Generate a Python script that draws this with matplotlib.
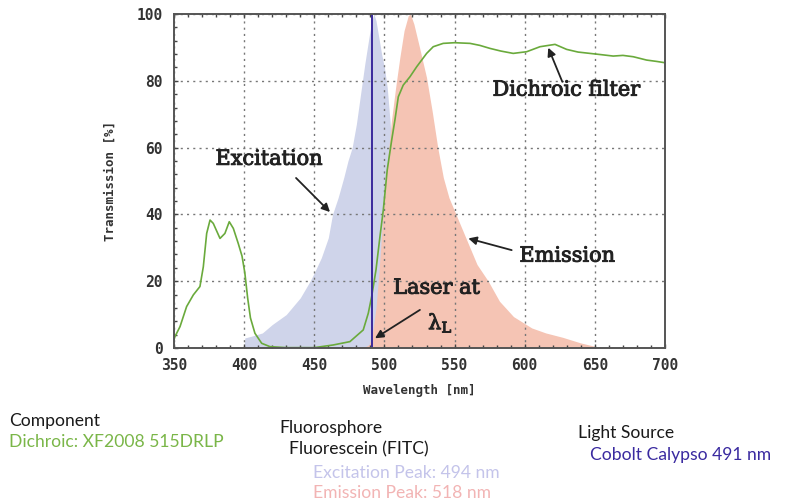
import matplotlib
matplotlib.use("Agg")
import matplotlib.pyplot as plt
import matplotlib.patheffects as pe
from matplotlib.ticker import MultipleLocator

plt.rcParams['mathtext.fontset'] = 'dejavuserif'

# ---- data ----
excitation_wl = [400, 400.5, 405, 413, 420, 430, 440, 447, 450, 455, 460, 463, 467, 471,
                 474, 477, 480, 483, 486, 489, 491, 492.5, 494, 496, 498, 500, 502, 504,
                 506, 508, 510, 513, 516, 520]
excitation_val = [0, 3, 3.5, 4.5, 7, 10, 15, 20, 22.5, 27, 33, 40, 45, 51,
                  56, 60, 67, 76, 85, 93, 98, 100, 98, 93, 88, 84, 78, 68,
                  55, 40, 25, 10, 3, 0]

emission_wl = [485, 489, 491, 494, 496, 499, 502, 505, 508, 511, 514, 517, 518.5, 521,
               525, 530, 534, 538, 542, 546, 552, 560, 566, 574, 582, 592, 605, 615, 627,
               640, 650, 651]
emission_val = [0, 1, 3, 12, 22, 40, 55, 68, 78, 87, 95, 99.5, 100, 97,
                90, 81, 71, 60, 51, 45, 39, 31, 25, 20, 14, 9.4, 6, 4.5, 3.2,
                1.5, 0.5, 0]

dichroic_wl = [350, 350.7, 354.3, 359, 363.8, 368.5, 370.9, 373.3, 375.7, 378, 382.8,
               386.3, 389.4, 392.3, 395.8, 398.5, 400.5, 402.5, 404.5, 407.7, 412.5, 418.4,
               430, 450, 463.5, 475.4, 484.9, 488.5, 490.9, 494, 496.8, 499.2, 502,
               505.2, 507.5, 509.9, 513.4, 518.2, 523, 530.1, 534.8, 541.9, 550, 561,
               568, 575.2, 583, 591.8, 601.4, 610.9, 621.6, 629.9, 638, 646.5, 655,
               663.1, 670, 677.4, 686.9, 694, 700]
dichroic_val = [2.5, 3.4, 6.4, 12.4, 15.9, 18.4, 24.3, 34.3, 38.3, 37.3, 32.8,
                34.3, 37.8, 35.8, 31.3, 27.5, 22.5, 15, 9, 4.4, 1.4, 0.4,
                0.1, 0.1, 0.9, 1.9, 5.4, 10.4, 15.4, 23.4, 33.3, 41.3, 53.3,
                62.3, 68.3, 75.2, 78.7, 81.2, 84.2, 88.2, 90.2, 91.2, 91.4, 91.2,
                90.6, 89.7, 88.9, 88.2, 88.7, 90.2, 90.9, 89.4, 88.6, 88.2, 87.8,
                87.4, 87.6, 87.2, 86.2, 85.8, 85.4]

laser_wl = 491

x_ticks = [350, 400, 450, 500, 550, 600, 650, 700]
y_ticks = [0, 20, 40, 60, 80, 100]

# ---- figure ----
fig = plt.figure(figsize=(7.88, 5.03), dpi=100)
ax = fig.add_axes([0.2208, 0.3082, 0.6231, 0.664])

ax.fill_between(excitation_wl, excitation_val, 0, color='#cfd4ea', lw=0, zorder=1)
ax.fill_between(emission_wl, emission_val, 0, color='#f5c4b4', lw=0, zorder=2)
ax.plot(dichroic_wl, dichroic_val, color='#6aaa3c', lw=1.2, zorder=4)
ax.plot([laser_wl, laser_wl], [0, 100], color='#3a2a9c', lw=1.4, zorder=5)

ax.set_xlim(350, 700)
ax.set_ylim(0, 100)
ax.set_xticks(x_ticks)
ax.set_yticks(y_ticks)
ax.xaxis.set_minor_locator(MultipleLocator(10))
ax.yaxis.set_minor_locator(MultipleLocator(4))
ax.tick_params(which='both', direction='in', top=True, right=False, color='#444444')
ax.tick_params(which='major', length=3, width=1)
ax.tick_params(which='minor', length=2, width=1)
ax.tick_params(axis='x', pad=7)
ax.tick_params(axis='y', pad=8)
ax.grid(True, which='major', linestyle=(0, (1.5, 3)), color='#777777', lw=1.0, zorder=3)
ax.set_axisbelow(False)
for s in ax.spines.values():
    s.set_color('#555555')
    s.set_linewidth(1.4)
    s.set_zorder(6)

for lbl in ax.get_xticklabels() + ax.get_yticklabels():
    lbl.set_fontfamily('DejaVu Sans Mono')
    lbl.set_fontweight('bold')
    lbl.set_fontsize(10.5)
    lbl.set_color('#333333')

ax.set_xlabel('Wavelength [nm]', fontdict=dict(family='DejaVu Sans Mono', weight='bold', size=9),
              color='#333333', labelpad=8)
ax.set_ylabel('Transmission [%]', fontdict=dict(family='DejaVu Sans Mono', weight='bold', size=9),
              color='#333333', labelpad=14)

thick = [pe.withStroke(linewidth=0.7, foreground='#222222')]
ann_font = dict(family='DejaVu Serif', size=15, color='#222222')
arrow = dict(arrowstyle='-|>', color='#222222', lw=1.3, mutation_scale=12, shrinkA=0, shrinkB=0)

ax.text(418, 56.5, 'Excitation', ha='center', va='center', **ann_font, zorder=7, path_effects=thick)
ax.annotate('', xy=(461.2, 40.7), xytext=(437, 50.9), arrowprops=arrow, zorder=7)

ax.text(630, 77.2, 'Dichroic filter', ha='center', va='center', **ann_font, zorder=7, path_effects=thick)
ax.annotate('', xy=(616.8, 89.9), xytext=(626.8, 79.7), arrowprops=arrow, zorder=7)

ax.text(630.5, 27.5, 'Emission', ha='center', va='center', **ann_font, zorder=7, path_effects=thick)
ax.annotate('', xy=(559.8, 32.8), xytext=(590.7, 29.3), arrowprops=arrow, zorder=7)

ax.text(537.3, 17.9, 'Laser at', ha='center', va='center', **ann_font, zorder=7, path_effects=thick)
ax.text(540, 7.5, r'λ$_\mathrm{L}$', ha='center', va='center', **ann_font, zorder=7, path_effects=thick)
ax.annotate('', xy=(493.3, 2.9), xytext=(525.3, 11.4), arrowprops=arrow, zorder=7)

# ---- info text below ----
info_font = ['Lato', 'DejaVu Sans']
def ftext(x, y, s, color):
    fig.text(x / 788, 1 - y / 503, s, ha='left', va='center', family=info_font,
             size=12.6, color=color)

ftext(9, 421, 'Component', '#1a1a1a')
ftext(9, 442, 'Dichroic: XF2008 515DRLP', '#7ab648')
ftext(279, 428, 'Fluorosphore', '#1a1a1a')
ftext(289, 449, 'Fluorescein (FITC)', '#1a1a1a')
ftext(313, 473, 'Excitation Peak: 494 nm', '#c4c4ea')
ftext(313, 493, 'Emission Peak: 518 nm', '#f2b4b4')
ftext(578, 433, 'Light Source', '#1a1a1a')
ftext(590, 455, 'Cobolt Calypso 491 nm', '#3a2aa0')

fig.savefig('out.png', dpi=100)
